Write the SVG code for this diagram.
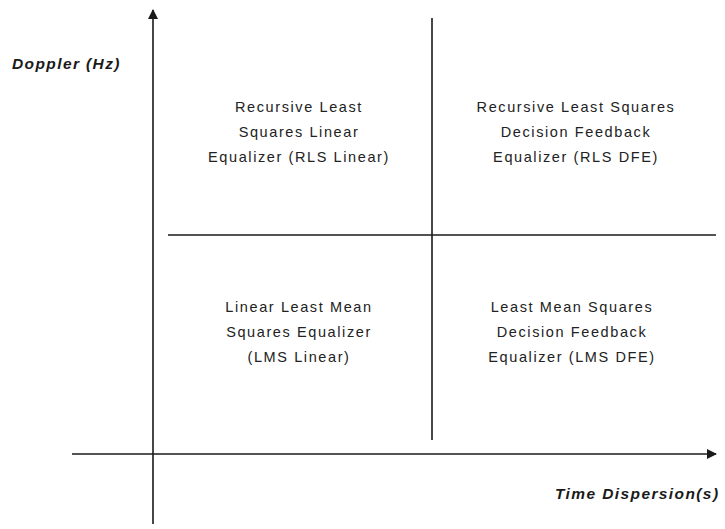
<svg xmlns="http://www.w3.org/2000/svg" width="725" height="529" viewBox="0 0 725 529">
<style>
.ln{stroke:#1a1a1a;stroke-width:1.6;fill:none}
.t{font-family:"Liberation Sans",Arial,sans-serif;font-size:14.5px;fill:#222;text-anchor:middle;letter-spacing:1.6px}
.ax{font-family:"Liberation Sans",Arial,sans-serif;font-size:15.5px;font-weight:bold;font-style:italic;fill:#1a1a1a;letter-spacing:1.4px}
</style>
<defs>
<marker id="ah" markerWidth="10" markerHeight="10" refX="9" refY="5" orient="auto" markerUnits="userSpaceOnUse">
<path d="M0,0 L10,5 L0,10 Z" fill="#1a1a1a"/>
</marker>
</defs>
<g id="connectors">
<line class="ln" x1="153" y1="524" x2="153" y2="10" marker-end="url(#ah)"/>
<line class="ln" x1="72" y1="454" x2="716" y2="454" marker-end="url(#ah)"/>
<line class="ln" x1="432" y1="18" x2="432" y2="440"/>
<line class="ln" x1="168" y1="235" x2="716" y2="235"/>
</g>
<g id="y-label"><text class="ax" x="12" y="69">Doppler (Hz)</text></g>
<g id="x-label"><text class="ax" x="555" y="499">Time Dispersion(s)</text></g>
<g id="rls-linear">
<text class="t" x="299" y="112">Recursive Least</text>
<text class="t" x="299" y="137">Squares Linear</text>
<text class="t" x="299" y="162">Equalizer (RLS Linear)</text>
</g>
<g id="rls-dfe">
<text class="t" x="576" y="112">Recursive Least Squares</text>
<text class="t" x="576" y="137">Decision Feedback</text>
<text class="t" x="576" y="162">Equalizer (RLS DFE)</text>
</g>
<g id="lms-linear">
<text class="t" x="299" y="312">Linear Least Mean</text>
<text class="t" x="299" y="337">Squares Equalizer</text>
<text class="t" x="299" y="362">(LMS Linear)</text>
</g>
<g id="lms-dfe">
<text class="t" x="572" y="312">Least Mean Squares</text>
<text class="t" x="572" y="337">Decision Feedback</text>
<text class="t" x="572" y="362">Equalizer (LMS DFE)</text>
</g>
</svg>
